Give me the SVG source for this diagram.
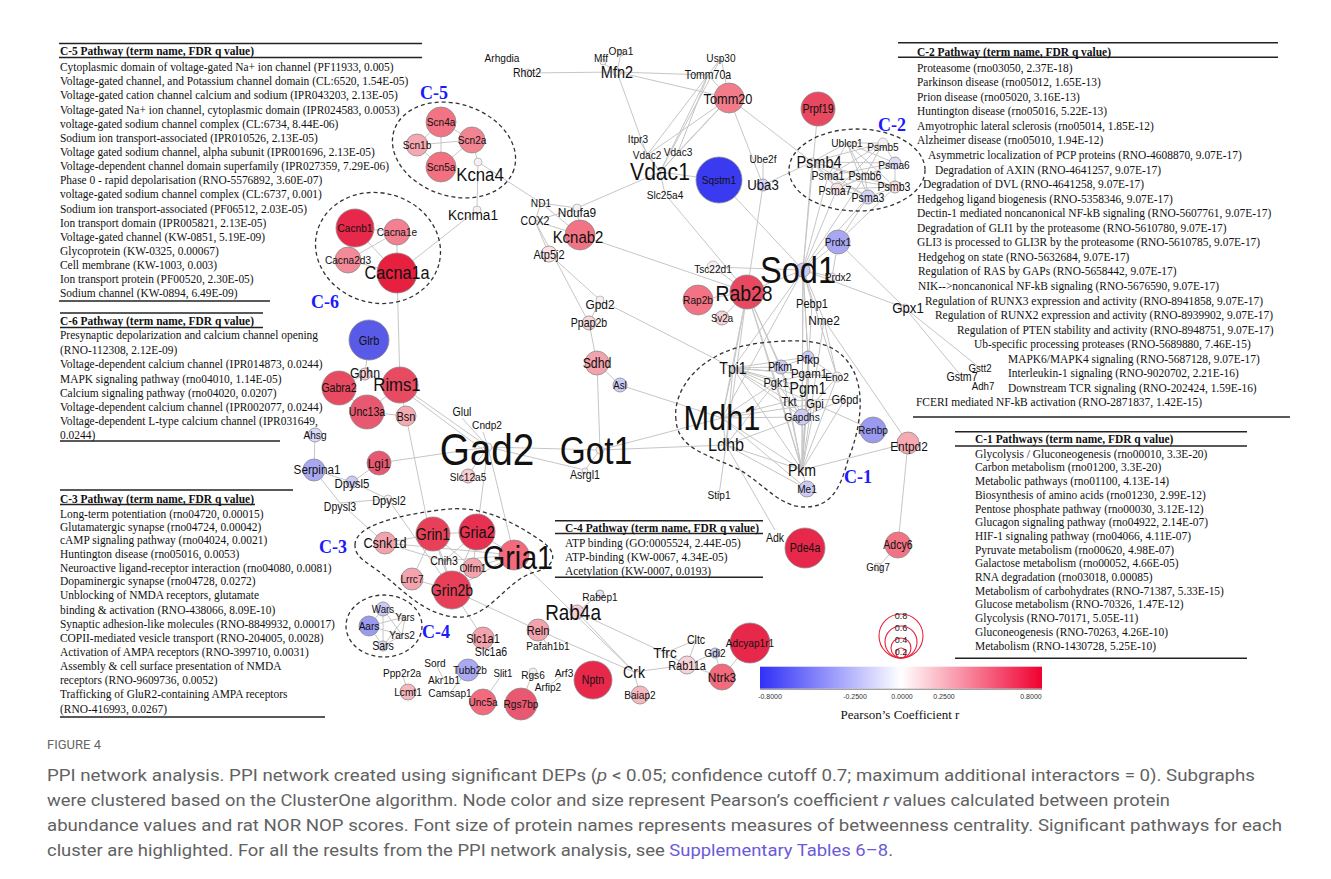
<svg xmlns="http://www.w3.org/2000/svg" width="1331" height="879" viewBox="0 0 1331 879">
<defs>
<linearGradient id="gbar" x1="0" x2="1" y1="0" y2="0">
<stop offset="0" stop-color="#3030f8"/><stop offset="0.5" stop-color="#ffffff"/><stop offset="1" stop-color="#f00030"/>
</linearGradient>
<style>
.e{stroke:#c6c6c6;stroke-width:1;fill:none}
.n{stroke:#8c8c8c;stroke-width:0.8}
.s{fill:#f6f0f4;stroke:#a8a8a8;stroke-width:0.7}
.t{font-family:"Liberation Sans",Arial,sans-serif;fill:#111;text-anchor:middle;dominant-baseline:central;transform-box:fill-box;transform-origin:center;transform:scaleX(0.88)}
.tb{font-family:"Liberation Serif","Times New Roman",serif;font-size:13px;fill:#111;transform-box:fill-box;transform-origin:0% 50%;transform:scaleX(0.88)}
.th{font-weight:bold}
.r{stroke:#222;stroke-width:1.4}
.d{fill:none;stroke:#333;stroke-width:1.3;stroke-dasharray:4 3}
.cl{font-family:"Liberation Serif","Times New Roman",serif;font-weight:bold;font-size:18px;fill:#1a1aff;text-anchor:middle;dominant-baseline:central}
.cap{font-family:Roboto,"Liberation Sans",sans-serif;font-size:17px;fill:#626262}
.lg{font-family:"Liberation Sans",Arial,sans-serif;font-size:7px;fill:#333;text-anchor:middle}
</style>
</defs>
<rect width="1331" height="879" fill="#fff"/>

<g id="connectors">
<path class="e" d="M528,73L617,72 M617,72L601,62 M617,72L621,53 M617,72L708,75 M617,72L729,98 M617,72L647,155 M721,58L660,172 M721,58L647,155 M721,58L729,98 M708,75L678,152 M708,75L660,172 M708,75L729,98 M729,98L660,172 M729,98L678,152 M729,98L647,155 M729,98L763,185 M729,98L812,162 M638,139L660,172 M647,155L660,172 M678,152L660,172 M660,172L719,180 M660,172L577,208 M660,172L665,194 M665,194L747,292 M719,180L803,270 M763,159L763,185 M763,185L812,162 M763,185L747,292 M818,109L803,270"/>
<path class="e" d="M812,162L847,143 M812,162L883,143 M812,162L895,163 M812,162L865,176 M812,162L895,187 M812,162L868,197 M812,162L837,189 M812,162L828,176 M847,143L883,143 M847,143L895,163 M847,143L865,176 M847,143L828,176 M847,143L895,187 M847,143L868,197 M883,143L895,163 M883,143L865,176 M883,143L828,176 M883,143L837,189 M895,163L865,176 M895,163L828,176 M895,163L895,187 M895,163L837,189 M865,176L895,187 M865,176L868,197 M865,176L837,189 M828,176L837,189 M828,176L868,197 M828,176L895,187 M837,189L868,197 M868,197L895,187 M837,189L895,187 M837,189L803,270 M828,176L803,270 M868,197L803,270 M812,162L803,270 M865,176L803,270 M868,197L838,242 M895,187L838,242"/>
<path class="e" d="M838,242L803,270 M838,242L832,277 M838,242L905,308 M803,270L905,308 M905,308L980,368 M905,308L962,377 M803,270L812,303 M803,270L824,320 M803,270L832,277 M803,270L713,267 M713,267L747,292 M803,270L747,292 M747,292L698,300 M747,292L722,318 M580,235L747,292 M747,292L733,368 M747,292L802,470 M747,292L776,382 M747,292L802,417 M747,292L722,418 M747,292L781,367 M747,292L726,445 M803,270L808,357 M803,270L809,374 M803,270L802,417 M803,270L802,470 M803,270L733,368 M803,270L837,377 M803,270L722,418 M812,303L802,470 M824,320L837,377 M824,320L908,443 M824,320L802,470"/>
<path class="e" d="M733,368L781,367 M733,368L808,357 M733,368L809,374 M733,368L776,382 M733,368L808,388 M733,368L837,377 M733,368L802,417 M733,368L815,404 M733,368L789,401 M733,368L802,470 M733,368L722,418 M733,368L726,445 M722,418L726,445 M722,418L802,470 M722,418L807,489 M722,418L802,417 M722,418L789,401 M722,418L776,382 M722,418L815,404 M726,445L802,470 M726,445L802,417 M726,445L807,489 M726,445L719,495 M726,445L776,382 M802,470L802,417 M802,470L776,382 M802,470L837,377 M802,470L808,357 M802,470L809,374 M802,470L815,404 M802,470L845,399 M802,470L789,401 M802,470L807,489 M802,470L781,367 M802,470L808,388 M776,382L802,417 M837,377L802,417 M845,399L802,417 M845,399L789,401 M808,357L781,367 M809,374L837,377 M809,374L776,382 M808,357L837,377 M815,404L802,417 M789,401L802,417 M802,470L908,443 M815,404L873,430 M908,443L898,545 M898,545L878,567 M726,445L775,530"/>
<path class="e" d="M488,447L600,450 M600,450L722,418 M600,450L726,445 M600,450L585,470 M488,447L585,470 M597,363L600,450 M549,254L600,300 M535,221L589,323 M600,300L589,323 M589,323L597,363 M597,363L620,385 M620,385L722,418 M600,300L733,368"/>
<path class="e" d="M478,162L477,210 M477,210L397,273 M478,162L541,203 M541,203L535,221 M541,203L577,208 M541,203L580,235 M535,221L577,208 M535,221L580,235 M535,221L549,254 M577,208L580,235 M441,122L417,145 M441,122L472,140 M441,122L441,167 M417,145L472,140 M417,145L441,167 M472,140L441,167 M472,140L478,162 M355,228L397,232 M355,228L348,260 M355,228L397,273 M397,232L397,273 M348,260L397,273 M397,232L348,260"/>
<path class="e" d="M397,273L400,385 M400,385L406,416 M400,385L367,412 M400,385L365,374 M369,340L365,374 M365,374L339,388 M339,388L367,412 M367,412L406,416 M406,416L427,520 M400,385L488,447 M404,391L486,452 M462,418L488,447 M483,432L488,447 M379,463L488,447 M468,475L488,447 M488,447L514,555 M488,447L477,532 M315,435L314,470 M314,470L340,503 M314,470L352,482 M379,463L352,482 M352,482L388,499 M340,503L388,499 M388,499L452,590 M340,503L385,543"/>
<path class="e" d="M385,543L433,534 M385,543L514,555 M385,543L444,561 M433,534L477,532 M433,534L452,590 M433,534L444,561 M433,534L412,579 M477,532L514,555 M477,532L444,561 M477,532L473,568 M477,532L452,590 M514,555L473,568 M514,555L452,590 M514,555L444,561 M444,561L452,590 M412,579L452,590 M473,568L452,590 M433,534L473,568 M514,555L634,672 M452,590L538,630 M452,590L483,638 M538,630L634,672 M577,612L634,672 M577,612L600,594 M577,612L665,653 M538,630L548,646 M483,638L491,652 M634,672L687,665 M687,665L722,677 M634,672L640,695 M665,653L696,640 M665,653L687,665 M696,640L687,665 M687,665L715,653 M715,653L722,677 M722,677L750,643 M435,663L444,680 M468,670L450,693 M503,673L483,702 M533,672L521,704 M564,673L548,687 M402,673L408,692 M383,609L405,617 M383,609L369,626 M383,609L402,635 M383,609L383,646 M405,617L369,626 M405,617L402,635 M369,626L402,635 M369,626L383,646 M402,635L383,646 M405,617L383,646"/>
</g>

<g id="clusters">
<ellipse class="d" cx="454" cy="150" rx="63" ry="46" transform="rotate(18 454 150)"/>
<ellipse class="d" cx="378" cy="248" rx="63" ry="55" transform="rotate(15 378 248)"/>
<ellipse class="d" cx="857" cy="170" rx="68" ry="41"/>
<path class="d" d="M676,420 C672,390 700,350 760,343 C800,339 830,338 848,362 C868,388 860,430 848,460 C840,490 830,507 805,507 C780,507 765,485 740,470 C710,455 678,450 676,420 Z"/>
<path class="d" d="M355,545 C355,525 400,515 440,510 C480,504 510,520 540,540 C560,553 555,567 535,572 C505,580 490,620 455,617 C420,614 400,585 370,565 C358,557 355,552 355,545 Z"/>
<ellipse class="d" cx="384" cy="626" rx="38" ry="31"/>
<text class="cl" x="434" y="93">C-5</text>
<text class="cl" x="325" y="302">C-6</text>
<text class="cl" x="892" y="125">C-2</text>
<text class="cl" x="858" y="477">C-1</text>
<text class="cl" x="333" y="547">C-3</text>
<text class="cl" x="436" y="632">C-4</text>
</g>

<g id="n-Arhgdia"><text class="t" x="502" y="58" font-size="11.5">Arhgdia</text></g>
<g id="n-Rhot2"><circle class="s" cx="528" cy="73" r="4"/><text class="t" x="527" y="73" font-size="12">Rhot2</text></g>
<g id="n-Mff"><circle class="s" cx="603" cy="62" r="3"/><text class="t" x="601" y="58" font-size="11.5">Mff</text></g>
<g id="n-Opa1"><circle class="s" cx="621" cy="53" r="3"/><text class="t" x="621" y="51" font-size="11.5">Opa1</text></g>
<g id="n-Mfn2"><circle class="s" cx="617" cy="72" r="4"/><text class="t" x="617" y="72" font-size="16.5">Mfn2</text></g>
<g id="n-Usp30"><text class="t" x="721" y="58" font-size="11.5">Usp30</text></g>
<g id="n-Tomm70a"><text class="t" x="708" y="75" font-size="12">Tomm70a</text></g>
<g id="n-Tomm20"><circle class="n" cx="729" cy="98" r="15" fill="#f27c8a"/><text class="t" x="728" y="99" font-size="14.5">Tomm20</text></g>
<g id="n-Itpr3"><text class="t" x="638" y="139" font-size="11.5">Itpr3</text></g>
<g id="n-Vdac2"><text class="t" x="647" y="155" font-size="11.5">Vdac2</text></g>
<g id="n-Vdac3"><text class="t" x="678" y="152" font-size="11.5">Vdac3</text></g>
<g id="n-Vdac1"><text class="t" x="660" y="172" font-size="24">Vdac1</text></g>
<g id="n-Slc25a4"><text class="t" x="665" y="195" font-size="11.5">Slc25a4</text></g>
<g id="n-Sqstm1"><circle class="n" cx="719" cy="180" r="23" fill="#3a3af0"/><text class="t" x="719" y="180" font-size="11.5">Sqstm1</text></g>
<g id="n-Ube2f"><text class="t" x="763" y="159" font-size="11.5">Ube2f</text></g>
<g id="n-Uba3"><circle class="n" cx="763" cy="185" r="6" fill="#d6d6f8"/><text class="t" x="763" y="185" font-size="15">Uba3</text></g>
<g id="n-Prpf19"><circle class="n" cx="818" cy="109" r="17" fill="#e84860"/><text class="t" x="818" y="109" font-size="12">Prpf19</text></g>
<g id="n-Psmb4"><circle class="s" cx="812" cy="162" r="4"/><text class="t" x="819" y="162" font-size="16.5">Psmb4</text></g>
<g id="n-Ublcp1"><text class="t" x="847" y="143" font-size="11.5">Ublcp1</text></g>
<g id="n-Psmb5"><circle class="s" cx="883" cy="143" r="5"/><text class="t" x="883" y="147" font-size="11.5">Psmb5</text></g>
<g id="n-Psma6"><circle class="n" cx="895" cy="163" r="6" fill="#dcdcf8"/><text class="t" x="894" y="165" font-size="11.5">Psma6</text></g>
<g id="n-Psma1"><text class="t" x="828" y="176" font-size="12">Psma1</text></g>
<g id="n-Psmb6"><circle class="s" cx="865" cy="176" r="4"/><text class="t" x="865" y="176" font-size="12">Psmb6</text></g>
<g id="n-Psmb3"><circle class="n" cx="895" cy="187" r="6" fill="#f8e2e2"/><text class="t" x="894" y="187" font-size="12">Psmb3</text></g>
<g id="n-Psma7"><circle class="n" cx="837" cy="189" r="6" fill="#f8e2e2"/><text class="t" x="835" y="191" font-size="12">Psma7</text></g>
<g id="n-Psma3"><circle class="n" cx="868" cy="197" r="7" fill="#d2d2f8"/><text class="t" x="868" y="198" font-size="12">Psma3</text></g>
<g id="n-Prdx1"><circle class="n" cx="838" cy="242" r="12" fill="#a8a8f2"/><text class="t" x="838" y="242" font-size="11.5">Prdx1</text></g>
<g id="n-Tsc22d1"><circle class="s" cx="713" cy="267" r="6" fill="#eaeaf8"/><text class="t" x="713" y="269" font-size="11.5">Tsc22d1</text></g>
<g id="n-Sod1"><circle class="n" cx="803" cy="270" r="7" fill="#cacaf4"/><text class="t" x="798" y="270" font-size="37">Sod1</text></g>
<g id="n-Prdx2"><circle class="s" cx="832" cy="277" r="4"/><text class="t" x="838" y="277" font-size="11.5">Prdx2</text></g>
<g id="n-Rab28"><circle class="n" cx="747" cy="292" r="17" fill="#e84860"/><text class="t" x="744" y="293" font-size="22">Rab28</text></g>
<g id="n-Rap2b"><circle class="n" cx="698" cy="300" r="15" fill="#f27484"/><text class="t" x="698" y="300" font-size="11.5">Rap2b</text></g>
<g id="n-Sv2a"><circle class="n" cx="722" cy="318" r="7" fill="#f8d2d6"/><text class="t" x="722" y="318" font-size="11">Sv2a</text></g>
<g id="n-Pebp1"><text class="t" x="812" y="303" font-size="12.5">Pebp1</text></g>
<g id="n-Nme2"><text class="t" x="824" y="320" font-size="13.5">Nme2</text></g>
<g id="n-Gpx1"><circle class="s" cx="905" cy="308" r="4"/><text class="t" x="908" y="308" font-size="15">Gpx1</text></g>
<g id="n-Gstt2"><text class="t" x="980" y="368" font-size="11">Gstt2</text></g>
<g id="n-Gstm7"><text class="t" x="962" y="377" font-size="12">Gstm7</text></g>
<g id="n-Adh7"><text class="t" x="983" y="386" font-size="11">Adh7</text></g>

<g id="n-Scn4a"><circle class="n" cx="441" cy="122" r="15" fill="#f27484"/><text class="t" x="441" y="122" font-size="11.5">Scn4a</text></g>
<g id="n-Scn1b"><circle class="n" cx="417" cy="145" r="11" fill="#f6a8b2"/><text class="t" x="417" y="145" font-size="11.5">Scn1b</text></g>
<g id="n-Scn2a"><circle class="n" cx="472" cy="140" r="13" fill="#f28492"/><text class="t" x="472" y="140" font-size="11.5">Scn2a</text></g>
<g id="n-Scn5a"><circle class="n" cx="441" cy="167" r="15" fill="#f27080"/><text class="t" x="441" y="167" font-size="11.5">Scn5a</text></g>
<g id="n-Kcna4"><circle class="s" cx="478" cy="162" r="4"/><text class="t" x="480" y="175" font-size="19">Kcna4</text></g>
<g id="n-Kcnma1"><circle class="s" cx="477" cy="210" r="4"/><text class="t" x="473" y="215" font-size="15.5">Kcnma1</text></g>
<g id="n-ND1"><text class="t" x="541" y="203" font-size="11.5">ND1</text></g>
<g id="n-COX2"><text class="t" x="535" y="221" font-size="12">COX2</text></g>
<g id="n-Ndufa9"><circle class="s" cx="577" cy="208" r="4"/><text class="t" x="577" y="212" font-size="13.5">Ndufa9</text></g>
<g id="n-Kcnab2"><circle class="n" cx="580" cy="235" r="15" fill="#f27484"/><text class="t" x="578" y="237" font-size="17">Kcnab2</text></g>
<g id="n-Atp5j2"><circle class="n" cx="549" cy="254" r="8" fill="#fae2e4"/><text class="t" x="549" y="254" font-size="12.5">Atp5j2</text></g>

<g id="n-Cacnb1"><circle class="n" cx="355" cy="228" r="19" fill="#e8284a"/><text class="t" x="355" y="228" font-size="11.5">Cacnb1</text></g>
<g id="n-Cacna1e"><circle class="n" cx="397" cy="232" r="13" fill="#f28090"/><text class="t" x="397" y="232" font-size="11.5">Cacna1e</text></g>
<g id="n-Cacna2d3"><circle class="n" cx="348" cy="260" r="13" fill="#f28a98"/><text class="t" x="348" y="260" font-size="11.5">Cacna2d3</text></g>
<g id="n-Cacna1a"><circle class="n" cx="397" cy="273" r="20" fill="#e82040"/><text class="t" x="397" y="273" font-size="18.5">Cacna1a</text></g>

<g id="n-Glrb"><circle class="n" cx="369" cy="340" r="20" fill="#5a5ae8"/><text class="t" x="369" y="340" font-size="12.5">Glrb</text></g>
<g id="n-Gphn"><circle class="n" cx="365" cy="374" r="6" fill="#f8d2d6"/><text class="t" x="365" y="373" font-size="14">Gphn</text></g>
<g id="n-Gabra2"><circle class="n" cx="339" cy="388" r="17" fill="#e84a62"/><text class="t" x="339" y="388" font-size="12">Gabra2</text></g>
<g id="n-Unc13a"><circle class="n" cx="367" cy="412" r="17" fill="#e85870"/><text class="t" x="367" y="412" font-size="12">Unc13a</text></g>
<g id="n-Rims1"><circle class="n" cx="400" cy="385" r="18" fill="#e84a62"/><text class="t" x="397" y="385" font-size="19">Rims1</text></g>
<g id="n-Bsn"><circle class="n" cx="406" cy="416" r="10" fill="#f6aab2"/><text class="t" x="406" y="416" font-size="12.5">Bsn</text></g>
<g id="n-Ahsg"><circle class="n" cx="315" cy="435" r="7" fill="#d8d8f8"/><text class="t" x="315" y="435" font-size="11.5">Ahsg</text></g>
<g id="n-Serpina1"><circle class="n" cx="314" cy="470" r="11" fill="#a8a8f2"/><text class="t" x="317" y="470" font-size="13.3">Serpina1</text></g>
<g id="n-Lgi1"><circle class="n" cx="379" cy="463" r="12" fill="#e85870"/><text class="t" x="379" y="463" font-size="13.5">Lgi1</text></g>
<g id="n-Dpysl5"><circle class="n" cx="352" cy="482" r="6" fill="#cacaf4"/><text class="t" x="352" y="484" font-size="13">Dpysl5</text></g>
<g id="n-Dpysl2"><circle class="s" cx="388" cy="499" r="4"/><text class="t" x="389" y="500" font-size="12.5">Dpysl2</text></g>
<g id="n-Dpysl3"><text class="t" x="340" y="507" font-size="12">Dpysl3</text></g>
<g id="n-Glul"><text class="t" x="462" y="412" font-size="12">Glul</text></g>
<g id="n-Cndp2"><text class="t" x="487" y="425" font-size="11.5">Cndp2</text></g>
<g id="n-Gad2"><circle class="s" cx="488" cy="447" r="4"/><text class="t" x="487" y="450" font-size="44">Gad2</text></g>
<g id="n-Got1"><circle class="s" cx="600" cy="450" r="4"/><text class="t" x="596" y="451" font-size="38">Got1</text></g>
<g id="n-Slc12a5"><circle class="n" cx="468" cy="476" r="7" fill="#f8ccd0"/><text class="t" x="468" y="477" font-size="11.5">Slc12a5</text></g>
<g id="n-Asrgl1"><circle class="s" cx="585" cy="471" r="3"/><text class="t" x="585" y="475" font-size="12">Asrgl1</text></g>
<g id="n-Gpd2"><circle class="s" cx="600" cy="300" r="4"/><text class="t" x="600" y="304" font-size="13.5">Gpd2</text></g>
<g id="n-Ppap2b"><circle class="n" cx="589" cy="323" r="7" fill="#f8d8dc"/><text class="t" x="589" y="323" font-size="12">Ppap2b</text></g>
<g id="n-Sdhd"><circle class="n" cx="597" cy="363" r="12" fill="#f4a2ac"/><text class="t" x="597" y="363" font-size="14">Sdhd</text></g>
<g id="n-Asl"><circle class="n" cx="620" cy="385" r="7" fill="#cacaf4"/><text class="t" x="620" y="385" font-size="11">Asl</text></g>

<g id="n-Tpi1"><text class="t" x="733" y="368" font-size="16">Tpi1</text></g>
<g id="n-Pfkm"><circle class="n" cx="781" cy="367" r="7" fill="#cacaf4"/><text class="t" x="780" y="367" font-size="12">Pfkm</text></g>
<g id="n-Pfkp"><circle class="n" cx="808" cy="357" r="6" fill="#cacaf4"/><text class="t" x="808" y="360" font-size="13">Pfkp</text></g>
<g id="n-Pgam1"><text class="t" x="809" y="374" font-size="13">Pgam1</text></g>
<g id="n-Eno2"><circle class="s" cx="837" cy="377" r="5"/><text class="t" x="837" y="377" font-size="11.5">Eno2</text></g>
<g id="n-Pgk1"><text class="t" x="776" y="382" font-size="12.5">Pgk1</text></g>
<g id="n-Pgm1"><text class="t" x="808" y="388" font-size="16">Pgm1</text></g>
<g id="n-Tkt"><text class="t" x="789" y="401" font-size="12.5">Tkt</text></g>
<g id="n-Gpi"><text class="t" x="815" y="404" font-size="13">Gpi</text></g>
<g id="n-G6pd"><text class="t" x="845" y="399" font-size="12.5">G6pd</text></g>
<g id="n-Gapdhs"><circle class="n" cx="802" cy="417" r="8" fill="#cacaf4"/><text class="t" x="802" y="417" font-size="11.5">Gapdhs</text></g>
<g id="n-Mdh1"><text class="t" x="722" y="418" font-size="35">Mdh1</text></g>
<g id="n-Ldhb"><text class="t" x="726" y="445" font-size="18.5">Ldhb</text></g>
<g id="n-Pkm"><text class="t" x="802" y="470" font-size="16">Pkm</text></g>
<g id="n-Me1"><circle class="n" cx="807" cy="489" r="8" fill="#cacaf4"/><text class="t" x="807" y="489" font-size="11.5">Me1</text></g>
<g id="n-Stip1"><text class="t" x="719" y="495" font-size="11.5">Stip1</text></g>
<g id="n-Renbp"><circle class="n" cx="873" cy="430" r="13" fill="#9a9af0"/><text class="t" x="873" y="430" font-size="11.5">Renbp</text></g>
<g id="n-Entpd2"><circle class="n" cx="908" cy="443" r="11" fill="#f6aab2"/><text class="t" x="909" y="446" font-size="13.5">Entpd2</text></g>
<g id="n-Adk"><text class="t" x="775" y="538" font-size="12">Adk</text></g>
<g id="n-Pde4a"><circle class="n" cx="805" cy="548" r="20" fill="#e8284a"/><text class="t" x="805" y="548" font-size="12">Pde4a</text></g>
<g id="n-Adcy6"><circle class="n" cx="898" cy="545" r="13" fill="#f27484"/><text class="t" x="898" y="545" font-size="12">Adcy6</text></g>
<g id="n-Gng7"><circle class="s" cx="878" cy="567" r="4" fill="#f8d8dc"/><text class="t" x="878" y="567" font-size="11">Gng7</text></g>

<g id="n-Csnk1d"><circle class="n" cx="385" cy="543" r="11" fill="#f4a2ac"/><text class="t" x="385" y="543" font-size="14.5">Csnk1d</text></g>
<g id="n-Grin1"><circle class="n" cx="433" cy="534" r="17" fill="#e84058"/><text class="t" x="433" y="534" font-size="16">Grin1</text></g>
<g id="n-Gria2"><circle class="n" cx="477" cy="532" r="18" fill="#e83050"/><text class="t" x="477" y="532" font-size="16.5">Gria2</text></g>
<g id="n-Gria1"><circle class="n" cx="514" cy="555" r="15" fill="#f26a7c"/><text class="t" x="518" y="557" font-size="32.5">Gria1</text></g>
<g id="n-Cnih3"><text class="t" x="444" y="561" font-size="12">Cnih3</text></g>
<g id="n-Olfm1"><circle class="n" cx="473" cy="568" r="10" fill="#f4a2ac"/><text class="t" x="473" y="568" font-size="11.5">Olfm1</text></g>
<g id="n-Lrrc7"><circle class="n" cx="412" cy="579" r="11" fill="#f4a2ac"/><text class="t" x="412" y="579" font-size="11.5">Lrrc7</text></g>
<g id="n-Grin2b"><circle class="n" cx="452" cy="590" r="19" fill="#e84058"/><text class="t" x="452" y="590" font-size="16">Grin2b</text></g>
<g id="n-Wars"><circle class="n" cx="383" cy="609" r="7" fill="#cacaf4"/><text class="t" x="383" y="609" font-size="11">Wars</text></g>
<g id="n-Yars"><text class="t" x="405" y="617" font-size="11">Yars</text></g>
<g id="n-Aars"><circle class="n" cx="369" cy="626" r="10" fill="#9a9af0"/><text class="t" x="369" y="626" font-size="11.5">Aars</text></g>
<g id="n-Yars2"><text class="t" x="402" y="635" font-size="11.5">Yars2</text></g>
<g id="n-Sars"><circle class="n" cx="383" cy="646" r="5" fill="#dcdcf8"/><text class="t" x="383" y="646" font-size="12">Sars</text></g>
<g id="n-Rabep1"><circle class="n" cx="600" cy="594" r="4" fill="#e2e2f8"/><text class="t" x="600" y="597" font-size="11.5">Rabep1</text></g>
<g id="n-Rab4a"><circle class="n" cx="577" cy="612" r="7" fill="#f8ccd0"/><text class="t" x="573" y="613" font-size="21.5">Rab4a</text></g>
<g id="n-Reln"><circle class="n" cx="538" cy="630" r="11" fill="#f4a2ac"/><text class="t" x="538" y="630" font-size="12.5">Reln</text></g>
<g id="n-Pafah1b1"><text class="t" x="548" y="646" font-size="11.5">Pafah1b1</text></g>
<g id="n-Slc1a1"><circle class="n" cx="483" cy="638" r="11" fill="#f4a2ac"/><text class="t" x="483" y="638" font-size="12.5">Slc1a1</text></g>
<g id="n-Slc1a6"><text class="t" x="491" y="652" font-size="12">Slc1a6</text></g>
<g id="n-Sord"><text class="t" x="435" y="663" font-size="11.5">Sord</text></g>
<g id="n-Akr1b1"><text class="t" x="444" y="680" font-size="11.5">Akr1b1</text></g>
<g id="n-Tubb2b"><circle class="n" cx="468" cy="670" r="11" fill="#aaaaf2"/><text class="t" x="470" y="670" font-size="11.5">Tubb2b</text></g>
<g id="n-Slit1"><text class="t" x="503" y="673" font-size="11">Slit1</text></g>
<g id="n-Ppp2r2a"><text class="t" x="402" y="673" font-size="11.5">Ppp2r2a</text></g>
<g id="n-Lcmt1"><circle class="n" cx="408" cy="692" r="8" fill="#f6b8be"/><text class="t" x="408" y="692" font-size="11.5">Lcmt1</text></g>
<g id="n-Camsap1"><text class="t" x="450" y="693" font-size="11.5">Camsap1</text></g>
<g id="n-Unc5a"><circle class="n" cx="483" cy="702" r="13" fill="#f26a7c"/><text class="t" x="483" y="702" font-size="11.5">Unc5a</text></g>
<g id="n-Rgs7bp"><circle class="n" cx="521" cy="704" r="16" fill="#e85870"/><text class="t" x="521" y="704" font-size="11.5">Rgs7bp</text></g>
<g id="n-Rgs6"><circle class="s" cx="533" cy="672" r="4" fill="#e8e8f8"/><text class="t" x="533" y="675" font-size="11.5">Rgs6</text></g>
<g id="n-Arf3"><text class="t" x="564" y="673" font-size="11.5">Arf3</text></g>
<g id="n-Arfip2"><text class="t" x="548" y="687" font-size="11.5">Arfip2</text></g>
<g id="n-Nptn"><circle class="n" cx="593" cy="680" r="19" fill="#e8284a"/><text class="t" x="593" y="680" font-size="12">Nptn</text></g>
<g id="n-Crk"><text class="t" x="634" y="672" font-size="16">Crk</text></g>
<g id="n-Baiap2"><circle class="n" cx="640" cy="695" r="9" fill="#f6b8be"/><text class="t" x="640" y="695" font-size="11.5">Baiap2</text></g>
<g id="n-Tfrc"><text class="t" x="665" y="653" font-size="15.5">Tfrc</text></g>
<g id="n-Cltc"><text class="t" x="696" y="640" font-size="12">Cltc</text></g>
<g id="n-Rab11a"><circle class="n" cx="687" cy="665" r="9" fill="#f8d2d6"/><text class="t" x="687" y="665" font-size="12.5">Rab11a</text></g>
<g id="n-Gdi2"><circle class="n" cx="715" cy="653" r="5" fill="#cacaf4"/><text class="t" x="715" y="653" font-size="11.5">Gdi2</text></g>
<g id="n-Adcyap1r1"><circle class="n" cx="750" cy="643" r="20" fill="#e8284a"/><text class="t" x="750" y="643" font-size="11.5">Adcyap1r1</text></g>
<g id="n-Ntrk3"><circle class="n" cx="722" cy="677" r="13" fill="#f26a7c"/><text class="t" x="722" y="677" font-size="13.5">Ntrk3</text></g>

<g id="table-c5">
<line class="r" x1="59" y1="43.5" x2="422" y2="43.5"/><line class="r" x1="59" y1="57.5" x2="422" y2="57.5"/><line class="r" x1="59" y1="301" x2="270" y2="301"/>
<text class="tb th" x="60" y="55">C-5 Pathway (term name, FDR q value)</text>
<text class="tb" x="60" y="71.2">Cytoplasmic domain of voltage-gated Na+ ion channel (PF11933, 0.005)</text>
<text class="tb" x="60" y="85.3">Voltage-gated channel, and Potassium channel domain (CL:6520, 1.54E-05)</text>
<text class="tb" x="60" y="99.5">Voltage-gated cation channel calcium and sodium (IPR043203, 2.13E-05)</text>
<text class="tb" x="60" y="113.6">Voltage-gated Na+ ion channel, cytoplasmic domain (IPR024583, 0.0053)</text>
<text class="tb" x="60" y="127.8">voltage-gated sodium channel complex (CL:6734, 8.44E-06)</text>
<text class="tb" x="60" y="141.9">Sodium ion transport-associated (IPR010526, 2.13E-05)</text>
<text class="tb" x="60" y="156.1">Voltage gated sodium channel, alpha subunit (IPR001696, 2.13E-05)</text>
<text class="tb" x="60" y="170.2">Voltage-dependent channel domain superfamily (IPR027359, 7.29E-06)</text>
<text class="tb" x="60" y="184.4">Phase 0 - rapid depolarisation (RNO-5576892, 3.60E-07)</text>
<text class="tb" x="60" y="198.5">voltage-gated sodium channel complex (CL:6737, 0.001)</text>
<text class="tb" x="60" y="212.7">Sodium ion transport-associated (PF06512, 2.03E-05)</text>
<text class="tb" x="60" y="226.8">Ion transport domain (IPR005821, 2.13E-05)</text>
<text class="tb" x="60" y="241">Voltage-gated channel (KW-0851, 5.19E-09)</text>
<text class="tb" x="60" y="255.1">Glycoprotein (KW-0325, 0.00067)</text>
<text class="tb" x="60" y="269.3">Cell membrane (KW-1003, 0.003)</text>
<text class="tb" x="60" y="283.4">Ion transport protein (PF00520, 2.30E-05)</text>
<text class="tb" x="60" y="297.5">Sodium channel (KW-0894, 6.49E-09)</text>
</g>

<g id="table-c6">
<line class="r" x1="60" y1="313" x2="263" y2="313"/><line class="r" x1="60" y1="327.5" x2="263" y2="327.5"/><line class="r" x1="60" y1="441" x2="280" y2="441"/>
<text class="tb th" x="60" y="325.5">C-6 Pathway (term name, FDR q value)</text>
<text class="tb" x="60" y="339.5">Presynaptic depolarization and calcium channel opening</text>
<text class="tb" x="60" y="353.8">(RNO-112308, 2.12E-09)</text>
<text class="tb" x="60" y="367.8">Voltage-dependent calcium channel (IPR014873, 0.0244)</text>
<text class="tb" x="60" y="382.8">MAPK signaling pathway (rno04010, 1.14E-05)</text>
<text class="tb" x="60" y="397.2">Calcium signaling pathway (rno04020, 0.0207)</text>
<text class="tb" x="60" y="411.2">Voltage-dependent calcium channel (IPR002077, 0.0244)</text>
<text class="tb" x="60" y="425.2">Voltage-dependent L-type calcium channel (IPR031649,</text>
<text class="tb" x="60" y="439.5">0.0244)</text>
</g>

<g id="table-c3">
<line class="r" x1="60" y1="490" x2="293" y2="490"/><line class="r" x1="60" y1="504.5" x2="255" y2="504.5"/><line class="r" x1="60" y1="717" x2="325" y2="717"/>
<text class="tb th" x="60" y="502.8">C-3 Pathway (term name, FDR q value)</text>
<text class="tb" x="60" y="517.8">Long-term potentiation (rno04720, 0.00015)</text>
<text class="tb" x="60" y="531.2">Glutamatergic synapse (rno04724, 0.00042)</text>
<text class="tb" x="60" y="544.5">cAMP signaling pathway (rno04024, 0.0021)</text>
<text class="tb" x="60" y="558.5">Huntington disease (rno05016, 0.0053)</text>
<text class="tb" x="60" y="571.8">Neuroactive ligand-receptor interaction (rno04080, 0.0081)</text>
<text class="tb" x="60" y="585.2">Dopaminergic synapse (rno04728, 0.0272)</text>
<text class="tb" x="60" y="599.5">Unblocking of NMDA receptors, glutamate</text>
<text class="tb" x="60" y="613.8">binding &amp; activation (RNO-438066, 8.09E-10)</text>
<text class="tb" x="60" y="628.5">Synaptic adhesion-like molecules (RNO-8849932, 0.00017)</text>
<text class="tb" x="60" y="641.8">COPII-mediated vesicle transport (RNO-204005, 0.0028)</text>
<text class="tb" x="60" y="656.2">Activation of AMPA receptors (RNO-399710, 0.0031)</text>
<text class="tb" x="60" y="670.2">Assembly &amp; cell surface presentation of NMDA</text>
<text class="tb" x="60" y="683.8">receptors (RNO-9609736, 0.0052)</text>
<text class="tb" x="60" y="697.8">Trafficking of GluR2-containing AMPA receptors</text>
<text class="tb" x="60" y="712.8">(RNO-416993, 0.0267)</text>
</g>

<g id="table-c2">
<line class="r" x1="898" y1="42.7" x2="1278" y2="42.7"/><line class="r" x1="898" y1="57.3" x2="1278" y2="57.3"/><line class="r" x1="913" y1="417" x2="1290" y2="417"/>
<text class="tb th" x="917" y="56">C-2 Pathway (term name, FDR q value)</text>
<text class="tb" x="917" y="71.8">Proteasome (rno03050, 2.37E-18)</text>
<text class="tb" x="917" y="86.3">Parkinson disease (rno05012, 1.65E-13)</text>
<text class="tb" x="917" y="100.9">Prion disease (rno05020, 3.16E-13)</text>
<text class="tb" x="917" y="115.4">Huntington disease (rno05016, 5.22E-13)</text>
<text class="tb" x="917" y="130">Amyotrophic lateral sclerosis (rno05014, 1.85E-12)</text>
<text class="tb" x="917" y="144.5">Alzheimer disease (rno05010, 1.94E-12)</text>
<text class="tb" x="928" y="159.1">Asymmetric localization of PCP proteins (RNO-4608870, 9.07E-17)</text>
<text class="tb" x="935" y="173.6">Degradation of AXIN (RNO-4641257, 9.07E-17)</text>
<text class="tb" x="923" y="188.2">Degradation of DVL (RNO-4641258, 9.07E-17)</text>
<text class="tb" x="917" y="202.7">Hedgehog ligand biogenesis (RNO-5358346, 9.07E-17)</text>
<text class="tb" x="917" y="217.3">Dectin-1 mediated noncanonical NF-kB signaling (RNO-5607761, 9.07E-17)</text>
<text class="tb" x="917" y="231.8">Degradation of GLI1 by the proteasome (RNO-5610780, 9.07E-17)</text>
<text class="tb" x="917" y="246.4">GLI3 is processed to GLI3R by the proteasome (RNO-5610785, 9.07E-17)</text>
<text class="tb" x="918" y="260.9">Hedgehog on state (RNO-5632684, 9.07E-17)</text>
<text class="tb" x="918" y="275.5">Regulation of RAS by GAPs (RNO-5658442, 9.07E-17)</text>
<text class="tb" x="918" y="290">NIK--&gt;noncanonical NF-kB signaling (RNO-5676590, 9.07E-17)</text>
<text class="tb" x="925" y="304.6">Regulation of RUNX3 expression and activity (RNO-8941858, 9.07E-17)</text>
<text class="tb" x="935" y="319.1">Regulation of RUNX2 expression and activity (RNO-8939902, 9.07E-17)</text>
<text class="tb" x="957" y="333.7">Regulation of PTEN stability and activity (RNO-8948751, 9.07E-17)</text>
<text class="tb" x="974" y="348.2">Ub-specific processing proteases (RNO-5689880, 7.46E-15)</text>
<text class="tb" x="1008" y="362.8">MAPK6/MAPK4 signaling (RNO-5687128, 9.07E-17)</text>
<text class="tb" x="1008" y="377.3">Interleukin-1 signaling (RNO-9020702, 2.21E-16)</text>
<text class="tb" x="1008" y="391.9">Downstream TCR signaling (RNO-202424, 1.59E-16)</text>
<text class="tb" x="916" y="406.4">FCERI mediated NF-kB activation (RNO-2871837, 1.42E-15)</text>
</g>

<g id="table-c1">
<line class="r" x1="955" y1="431.7" x2="1247" y2="431.7"/><line class="r" x1="955" y1="446" x2="1247" y2="446"/><line class="r" x1="955" y1="658.3" x2="1247" y2="658.3"/>
<text class="tb th" x="975" y="443.5">C-1 Pathways (term name, FDR q value)</text>
<text class="tb" x="975" y="457.8">Glycolysis / Gluconeogenesis  (rno00010, 3.3E-20)</text>
<text class="tb" x="975" y="471.5">Carbon metabolism (rno01200, 3.3E-20)</text>
<text class="tb" x="975" y="485.2">Metabolic pathways (rno01100, 4.13E-14)</text>
<text class="tb" x="975" y="498.9">Biosynthesis of amino acids (rno01230, 2.99E-12)</text>
<text class="tb" x="975" y="512.6">Pentose phosphate pathway (rno00030, 3.12E-12)</text>
<text class="tb" x="975" y="526.3">Glucagon signaling pathway (rno04922, 2.14E-07)</text>
<text class="tb" x="975" y="540">HIF-1 signaling pathway (rno04066, 4.11E-07)</text>
<text class="tb" x="975" y="553.7">Pyruvate metabolism (rno00620, 4.98E-07)</text>
<text class="tb" x="975" y="567.4">Galactose metabolism (rno00052, 4.66E-05)</text>
<text class="tb" x="975" y="581.1">RNA degradation (rno03018, 0.00085)</text>
<text class="tb" x="975" y="594.8">Metabolism of carbohydrates (RNO-71387, 5.33E-15)</text>
<text class="tb" x="975" y="608.5">Glucose metabolism (RNO-70326, 1.47E-12)</text>
<text class="tb" x="975" y="622.2">Glycolysis (RNO-70171, 5.05E-11)</text>
<text class="tb" x="975" y="635.9">Gluconeogenesis (RNO-70263, 4.26E-10)</text>
<text class="tb" x="975" y="649.6">Metabolism (RNO-1430728, 5.25E-10)</text>
</g>

<g id="table-c4">
<line class="r" x1="555" y1="520.7" x2="763" y2="520.7"/><line class="r" x1="555" y1="533.5" x2="763" y2="533.5"/><line class="r" x1="555" y1="577.3" x2="763" y2="577.3"/>
<text class="tb th" x="565" y="532">C-4 Pathway (term name, FDR q value)</text>
<text class="tb" x="565" y="547.2">ATP binding (GO:0005524, 2.44E-05)</text>
<text class="tb" x="565" y="561.2">ATP-binding (KW-0067, 4.34E-05)</text>
<text class="tb" x="565" y="575">Acetylation (KW-0007, 0.0193)</text>
</g>

<g id="legend">
<g fill="none" stroke="#e8203a" stroke-width="1.1">
<circle cx="901" cy="636" r="22"/><circle cx="901" cy="642" r="16"/><circle cx="901" cy="648" r="10"/><circle cx="901" cy="653" r="5"/>
</g>
<g font-family="Liberation Sans,Arial,sans-serif" font-size="9" fill="#222" text-anchor="middle">
<text x="901" y="619">0.8</text><text x="901" y="631">0.6</text><text x="901" y="643">0.4</text><text x="901" y="655">0.2</text>
</g>
<rect x="760" y="666.7" width="282" height="22" fill="url(#gbar)"/>
<rect x="760" y="688.7" width="282" height="1.2" fill="#999"/>
<text class="lg" x="770" y="699">-0.8000</text><text class="lg" x="855" y="699">-0.2500</text><text class="lg" x="902" y="699">0.0000</text><text class="lg" x="944" y="699">0.2500</text><text class="lg" x="1031" y="699">0.8000</text>
<text x="900" y="719" font-family="Liberation Serif,Times New Roman,serif" font-size="13" fill="#111" text-anchor="middle">Pearson’s Coefficient r</text>
</g>

<g id="caption">
<text x="47" y="749" font-family="Roboto,Liberation Sans,sans-serif" font-size="12" fill="#666" textLength="54" lengthAdjust="spacingAndGlyphs">FIGURE 4</text>
<text class="cap" x="47" y="781" textLength="1208" lengthAdjust="spacingAndGlyphs">PPI network analysis. PPI network created using significant DEPs (<tspan font-style="italic">p</tspan> &lt; 0.05; confidence cutoff 0.7; maximum additional interactors = 0). Subgraphs</text>
<text class="cap" x="47" y="806" textLength="1123" lengthAdjust="spacingAndGlyphs">were clustered based on the ClusterOne algorithm. Node color and size represent Pearson’s coefficient <tspan font-style="italic">r</tspan> values calculated between protein</text>
<text class="cap" x="47" y="831" textLength="1235" lengthAdjust="spacingAndGlyphs">abundance values and rat NOR NOP scores. Font size of protein names represents measures of betweenness centrality. Significant pathways for each</text>
<text class="cap" x="47" y="856" textLength="846" lengthAdjust="spacingAndGlyphs">cluster are highlighted. For all the results from the PPI network analysis, see <tspan fill="#6a5ad8">Supplementary Tables 6–8</tspan>.</text>
</g>
</svg>
